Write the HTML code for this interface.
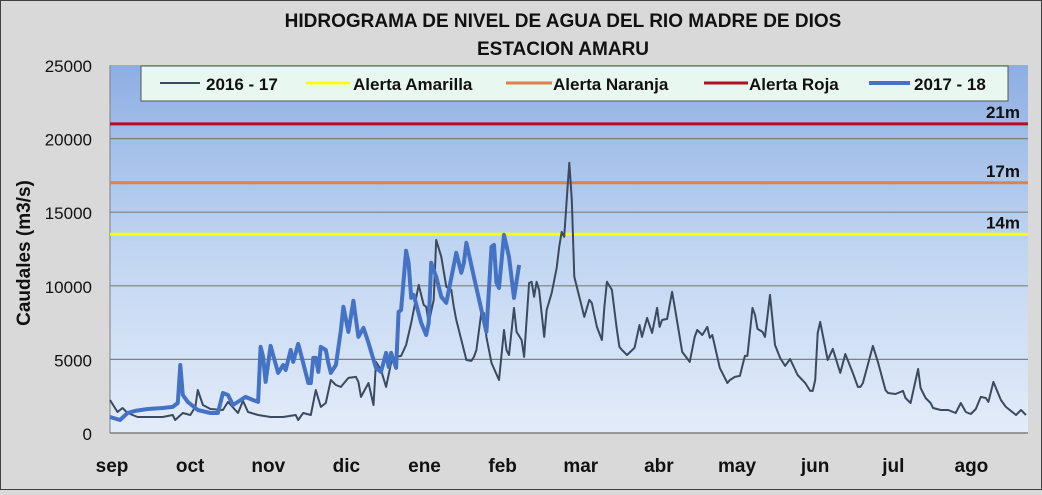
<!DOCTYPE html>
<html><head><meta charset="utf-8">
<style>
html,body{margin:0;padding:0;}
body{width:1042px;height:490px;overflow:hidden;background:#d9d9d9;font-family:"Liberation Sans",Arial,sans-serif;}
svg text{font-family:"Liberation Sans",Arial,sans-serif;}
</style></head>
<body>
<svg id="chart" width="1042" height="490" viewBox="0 0 1042 490" xmlns="http://www.w3.org/2000/svg">
<defs>
<linearGradient id="bg" x1="0" y1="0" x2="0" y2="1">
<stop offset="0" stop-color="#8eaee3"/>
<stop offset="0.5" stop-color="#c0d5f1"/>
<stop offset="1" stop-color="#e3ecf9"/>
</linearGradient>
</defs>
<rect x="0.5" y="0.5" width="1041" height="489" fill="#d9d9d9" stroke="#404040"/>
<text x="563" y="27" text-anchor="middle" font-size="19" font-weight="bold" fill="#111">HIDROGRAMA DE NIVEL DE AGUA DEL RIO MADRE DE DIOS</text>
<text x="563" y="55" text-anchor="middle" font-size="19" font-weight="bold" fill="#111">ESTACION AMARU</text>
<rect x="110" y="65" width="918" height="368" fill="url(#bg)"/>
<g id="grid"></g>
<g id="yticks"></g>
<g id="xticks"></g>
<g id="alerts"></g>
<g id="series"></g>
<text transform="translate(30,253) rotate(-90)" text-anchor="middle" font-size="19" font-weight="bold" fill="#111">Caudales (m3/s)</text>
<g>
<rect x="141" y="66" width="867" height="35" fill="#e8f8f0" stroke="#555"/>
<g><line x1="160" y1="83" x2="200" y2="83" stroke="#3b4a5e" stroke-width="2"/><text x="206" y="90" font-size="17" font-weight="bold" fill="#111">2016 - 17</text></g>
<g><line x1="306" y1="83" x2="350" y2="83" stroke="#ffff00" stroke-width="3"/><text x="353" y="90" font-size="17" font-weight="bold" fill="#111">Alerta Amarilla</text></g>
<g><line x1="506" y1="83" x2="552" y2="83" stroke="#e0804a" stroke-width="3"/><text x="553" y="90" font-size="17" font-weight="bold" fill="#111">Alerta Naranja</text></g>
<g><line x1="704" y1="83" x2="748" y2="83" stroke="#b01020" stroke-width="3"/><text x="749" y="90" font-size="17" font-weight="bold" fill="#111">Alerta Roja</text></g>
<g><line x1="869" y1="83" x2="910" y2="83" stroke="#4472c4" stroke-width="4"/><text x="914" y="90" font-size="17" font-weight="bold" fill="#111">2017 - 18</text></g>
</g>
</svg>
<script>
const yTicks=[0,5000,10000,15000,20000,25000];
const months=["sep","oct","nov","dic","ene","feb","mar","abr","may","jun","jul","ago"];
const alertNames=["Alerta Amarilla","Alerta Naranja","Alerta Roja"];
const alertValues=[13500,17000,21000];
const alertLabels=["14m","17m","21m"];
const alertColors=["#ffff00","#e0804a","#b01020"];
const days1617=[0,3,5,7,11,16,21,25,26,29,32,34,35,37,40,45,47,51,53,55,59,64,69,74,75,77,80,82,84,86,88,90,92,95,98,99,100,103,105,106,108,110,112,114,116,118,120,123,125,126,127,129,130,132,134,136,137,138,142,144,145,146,148,149,150,152,155,157,158,159,161,162,164,165,167,168,169,170,171,173,174,176,178,179,180,181,182,183,184,185,186,188,189,191,192,194,196,197,198,200,202,203,204,206,209,211,212,214,216,218,219,220,222,224,225,228,231,233,234,236,238,239,240,243,246,247,249,251,253,254,256,257,258,260,261,263,265,267,269,271,274,277,279,280,281,282,283,286,288,291,293,296,298,299,300,304,306,309,310,313,316,317,319,322,323,325,327,328,331,334,337,339,341,343,345,347,349,350,352,355,357,361,363,365];
const flow1617=[2240,1430,1700,1360,1090,1090,1090,1220,880,1360,1220,1770,2920,1900,1630,1560,2110,1360,2180,1430,1220,1090,1090,1220,880,1360,1220,2920,1770,2040,3600,3260,3130,3740,3810,3470,2450,3400,1900,4830,4280,3130,4760,5170,5240,5980,7480,10060,8700,8570,7480,9040,13120,11970,9930,9720,8570,7680,4960,4900,5170,5640,8230,8160,6530,4760,3600,7000,5640,5300,8500,6870,6320,5170,10200,10270,9250,10270,9720,6530,8360,9520,11220,12650,13670,13330,15840,18360,15840,10610,9930,8570,7890,9040,8840,7210,6320,8570,10270,9720,7000,5850,5640,5300,5780,7340,6530,7820,6800,8500,7210,7680,7750,9590,8570,5510,4830,6530,7000,6660,7210,6460,6660,4420,3400,3600,3810,3880,5240,5240,8500,8020,7070,6870,6530,9380,5980,5100,4560,5030,3940,3400,2860,2860,3600,6800,7550,4960,5710,4080,5370,4080,3130,3130,3400,5920,4830,2920,2720,2650,2860,2380,2040,4350,3060,2380,2040,1700,1560,1560,1360,2040,1430,1290,1630,2450,2380,2110,3470,2240,1770,1220,1560,1220];
const days1718=[0,4,7,10,15,21,25,27,28,29,31,35,40,43,45,47,49,54,57,59,60,61,62,64,67,69,70,72,73,75,77,79,80,81,82,83,84,86,87,88,90,92,93,95,97,99,101,103,106,108,110,111,112,114,115,116,118,119,120,121,124,126,127,128,130,132,134,138,140,141,142,145,150,152,153,154,155,157,159,161,163];
const flow1718=[1090,880,1360,1500,1630,1700,1770,2040,4620,2580,2110,1560,1360,1360,2720,2580,1900,2450,2240,2110,5850,5170,3470,5920,4080,4620,4280,5640,4830,6050,4760,3400,3400,5100,5100,4150,5850,5640,4760,4080,4620,7000,8570,6870,8980,6530,7140,6120,4420,4150,5440,4490,5440,4420,8230,8360,12380,11560,9180,9380,7480,6660,7480,11560,10610,9250,8840,12240,10880,11560,12920,10610,6870,12650,12780,10200,9860,13460,11970,9180,11420];

const NS="http://www.w3.org/2000/svg";
const L=110,R=1028,T=65,B=433,YMAX=25000,DMAX=365;
const sx=d=>L+d*(R-2-L)/DMAX;
const sy=v=>B-v*(B-T)/YMAX;
function mk(tag,parent,attrs){const e=document.createElementNS(NS,tag);for(const k in attrs)e.setAttribute(k,attrs[k]);parent.appendChild(e);return e;}
const grid=document.getElementById('grid'),yt=document.getElementById('yticks'),xt=document.getElementById('xticks'),al=document.getElementById('alerts'),se=document.getElementById('series');
yTicks.forEach(v=>{
  if(v>0&&v<YMAX){const g=mk('line',grid,{x1:L,x2:R,y1:sy(v),y2:sy(v),stroke:'#7f7f7f','stroke-width':1.2});
  
  }
  const t=mk('text',yt,{x:92,y:sy(v)+7,'text-anchor':'end','font-size':17,fill:'#111'});t.textContent=v;
  
  
});
const ax=mk('line',grid,{x1:L,x2:L,y1:T,y2:B,stroke:'#7f7f7f','stroke-width':1});


const bx=mk('line',grid,{x1:L,x2:R,y1:B,y2:B,stroke:'#7f7f7f','stroke-width':1.5});


const monthStep=(R-L)/11.75;
months.forEach((m,i)=>{
  const t=mk('text',xt,{x:L+2+i*monthStep,y:472,'text-anchor':'middle','font-size':19,'font-weight':'bold',fill:'#111'});t.textContent=m;
  
  
});
alertValues.forEach((v,i)=>{
  const l=mk('line',al,{x1:L,x2:R,y1:sy(v),y2:sy(v),stroke:alertColors[i],'stroke-width':3});
  
  
  const t=mk('text',al,{x:1020,y:sy(v)-6,'text-anchor':'end','font-size':17,'font-weight':'bold',fill:'#111'});t.textContent=alertLabels[i];
  
  
});
function path(days,vals){return days.map((d,i)=>(i?'L':'M')+sx(d).toFixed(1)+','+sy(vals[i]).toFixed(1)).join(' ');}
const p1=mk('path',se,{d:path(days1617,flow1617),fill:'none',stroke:'#3b4a5e','stroke-width':2,'stroke-linejoin':'round'});


const p2=mk('path',se,{d:path(days1718,flow1718),fill:'none',stroke:'#4472c4','stroke-width':4,'stroke-linejoin':'round'});


</script>
</body></html>
